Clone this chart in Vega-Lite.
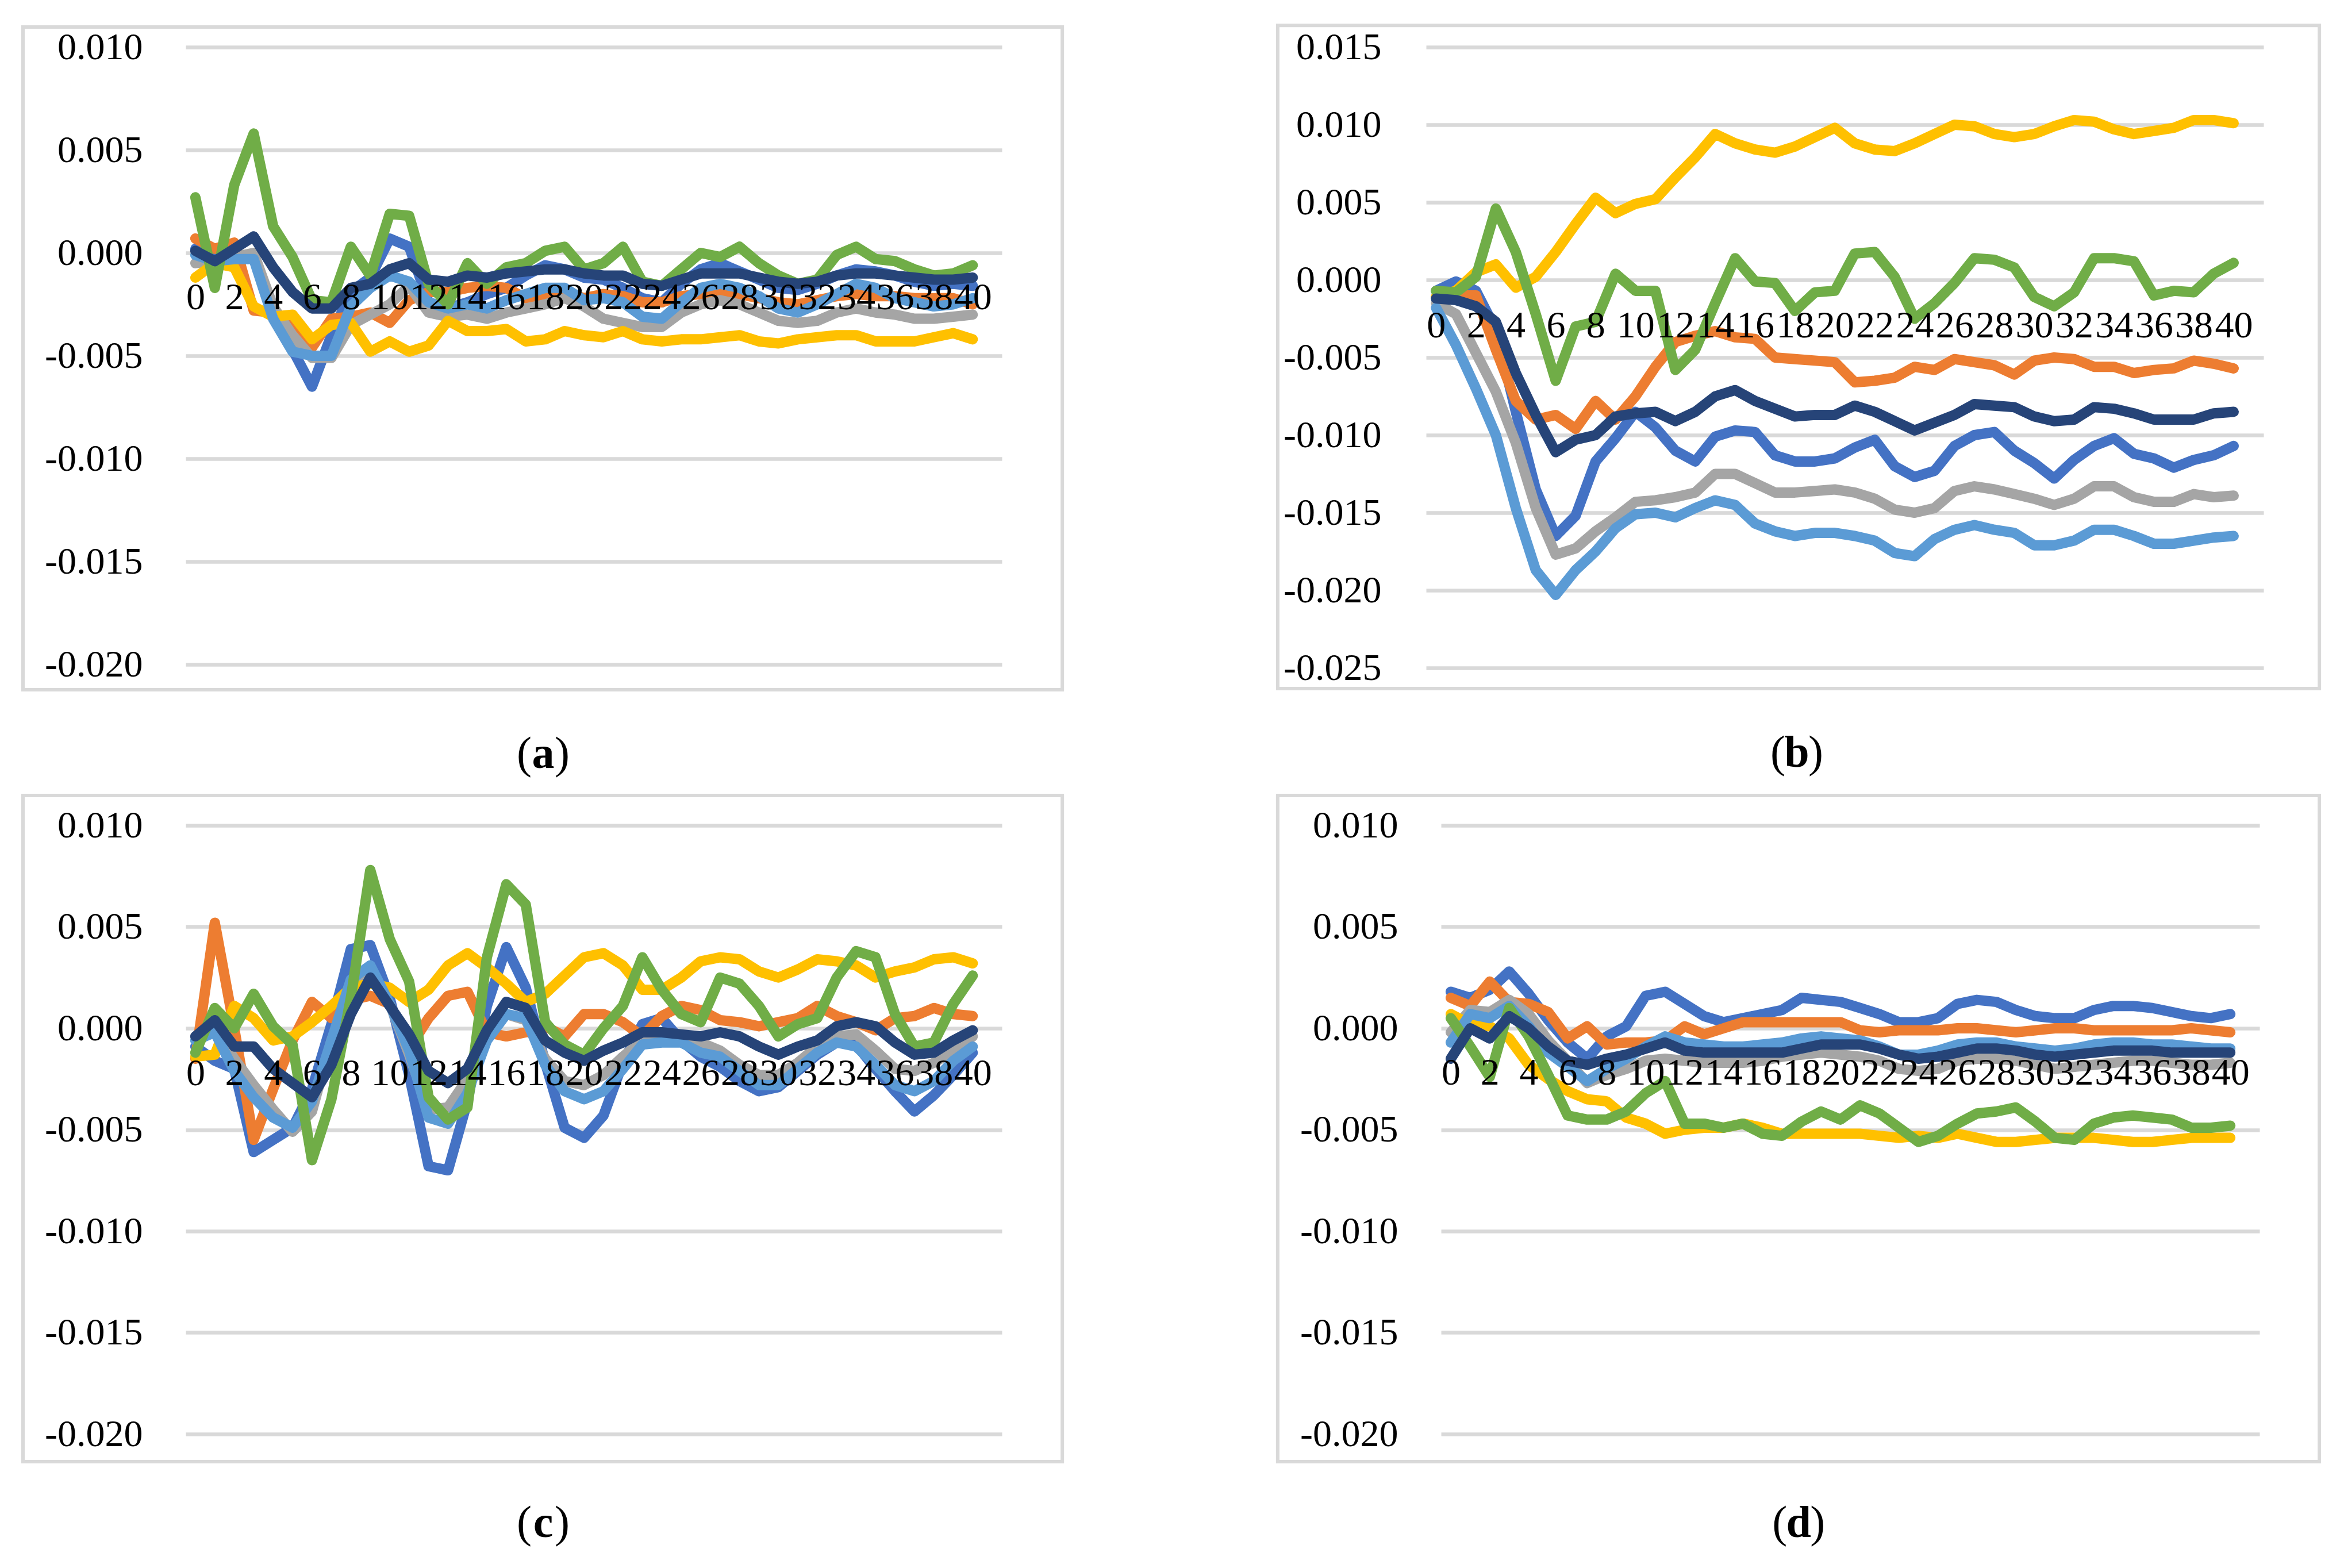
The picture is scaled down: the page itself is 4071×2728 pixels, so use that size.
{
"$schema": "https://vega.github.io/schema/vega-lite/v6.json",
"background": "white",
"padding": {"left": 37, "top": 41, "right": 0, "bottom": 0},
"spacing": 28,
"config": {"view": {"stroke": null}, "axis": {"labelFont": "Liberation Serif", "labelFontSize": 66, "labelColor": "#000000", "domain": false, "ticks": false}},
"datasets": {"d": [
{"p":"a","s":"s1","t":0,"v":0.0002},{"p":"a","s":"s1","t":1,"v":0.0001},{"p":"a","s":"s1","t":2,"v":-0.0002},{"p":"a","s":"s1","t":3,"v":-0.0002},{"p":"a","s":"s1","t":4,"v":-0.0030},{"p":"a","s":"s1","t":5,"v":-0.0047},{"p":"a","s":"s1","t":6,"v":-0.0065},{"p":"a","s":"s1","t":7,"v":-0.0040},{"p":"a","s":"s1","t":8,"v":-0.0019},{"p":"a","s":"s1","t":9,"v":-0.0012},{"p":"a","s":"s1","t":10,"v":0.0007},{"p":"a","s":"s1","t":11,"v":0.0003},{"p":"a","s":"s1","t":12,"v":-0.0024},{"p":"a","s":"s1","t":13,"v":-0.0027},{"p":"a","s":"s1","t":14,"v":-0.0024},{"p":"a","s":"s1","t":15,"v":-0.0020},{"p":"a","s":"s1","t":16,"v":-0.0017},{"p":"a","s":"s1","t":17,"v":-0.0011},{"p":"a","s":"s1","t":18,"v":-0.0006},{"p":"a","s":"s1","t":19,"v":-0.0008},{"p":"a","s":"s1","t":20,"v":-0.0012},{"p":"a","s":"s1","t":21,"v":-0.0013},{"p":"a","s":"s1","t":22,"v":-0.0017},{"p":"a","s":"s1","t":23,"v":-0.0022},{"p":"a","s":"s1","t":24,"v":-0.0024},{"p":"a","s":"s1","t":25,"v":-0.0015},{"p":"a","s":"s1","t":26,"v":-0.0008},{"p":"a","s":"s1","t":27,"v":-0.0005},{"p":"a","s":"s1","t":28,"v":-0.0009},{"p":"a","s":"s1","t":29,"v":-0.0013},{"p":"a","s":"s1","t":30,"v":-0.0017},{"p":"a","s":"s1","t":31,"v":-0.0018},{"p":"a","s":"s1","t":32,"v":-0.0015},{"p":"a","s":"s1","t":33,"v":-0.0011},{"p":"a","s":"s1","t":34,"v":-0.0008},{"p":"a","s":"s1","t":35,"v":-0.0009},{"p":"a","s":"s1","t":36,"v":-0.0011},{"p":"a","s":"s1","t":37,"v":-0.0014},{"p":"a","s":"s1","t":38,"v":-0.0016},{"p":"a","s":"s1","t":39,"v":-0.0015},{"p":"a","s":"s1","t":40,"v":-0.0016},
{"p":"a","s":"s2","t":0,"v":0.0007},{"p":"a","s":"s2","t":1,"v":0.0002},{"p":"a","s":"s2","t":2,"v":0.0005},{"p":"a","s":"s2","t":3,"v":-0.0028},{"p":"a","s":"s2","t":4,"v":-0.0029},{"p":"a","s":"s2","t":5,"v":-0.0036},{"p":"a","s":"s2","t":6,"v":-0.0046},{"p":"a","s":"s2","t":7,"v":-0.0032},{"p":"a","s":"s2","t":8,"v":-0.0031},{"p":"a","s":"s2","t":9,"v":-0.0029},{"p":"a","s":"s2","t":10,"v":-0.0034},{"p":"a","s":"s2","t":11,"v":-0.0023},{"p":"a","s":"s2","t":12,"v":-0.0019},{"p":"a","s":"s2","t":13,"v":-0.0019},{"p":"a","s":"s2","t":14,"v":-0.0017},{"p":"a","s":"s2","t":15,"v":-0.0016},{"p":"a","s":"s2","t":16,"v":-0.0017},{"p":"a","s":"s2","t":17,"v":-0.0022},{"p":"a","s":"s2","t":18,"v":-0.0020},{"p":"a","s":"s2","t":19,"v":-0.0019},{"p":"a","s":"s2","t":20,"v":-0.0022},{"p":"a","s":"s2","t":21,"v":-0.0020},{"p":"a","s":"s2","t":22,"v":-0.0021},{"p":"a","s":"s2","t":23,"v":-0.0024},{"p":"a","s":"s2","t":24,"v":-0.0024},{"p":"a","s":"s2","t":25,"v":-0.0021},{"p":"a","s":"s2","t":26,"v":-0.0020},{"p":"a","s":"s2","t":27,"v":-0.0019},{"p":"a","s":"s2","t":28,"v":-0.0020},{"p":"a","s":"s2","t":29,"v":-0.0022},{"p":"a","s":"s2","t":30,"v":-0.0024},{"p":"a","s":"s2","t":31,"v":-0.0025},{"p":"a","s":"s2","t":32,"v":-0.0023},{"p":"a","s":"s2","t":33,"v":-0.0021},{"p":"a","s":"s2","t":34,"v":-0.0020},{"p":"a","s":"s2","t":35,"v":-0.0021},{"p":"a","s":"s2","t":36,"v":-0.0021},{"p":"a","s":"s2","t":37,"v":-0.0022},{"p":"a","s":"s2","t":38,"v":-0.0022},{"p":"a","s":"s2","t":39,"v":-0.0022},{"p":"a","s":"s2","t":40,"v":-0.0025},
{"p":"a","s":"s3","t":0,"v":-0.0005},{"p":"a","s":"s3","t":1,"v":-0.0004},{"p":"a","s":"s3","t":2,"v":-0.0002},{"p":"a","s":"s3","t":3,"v":0.0000},{"p":"a","s":"s3","t":4,"v":-0.0026},{"p":"a","s":"s3","t":5,"v":-0.0040},{"p":"a","s":"s3","t":6,"v":-0.0051},{"p":"a","s":"s3","t":7,"v":-0.0051},{"p":"a","s":"s3","t":8,"v":-0.0035},{"p":"a","s":"s3","t":9,"v":-0.0030},{"p":"a","s":"s3","t":10,"v":-0.0025},{"p":"a","s":"s3","t":11,"v":-0.0016},{"p":"a","s":"s3","t":12,"v":-0.0029},{"p":"a","s":"s3","t":13,"v":-0.0031},{"p":"a","s":"s3","t":14,"v":-0.0030},{"p":"a","s":"s3","t":15,"v":-0.0032},{"p":"a","s":"s3","t":16,"v":-0.0029},{"p":"a","s":"s3","t":17,"v":-0.0027},{"p":"a","s":"s3","t":18,"v":-0.0025},{"p":"a","s":"s3","t":19,"v":-0.0022},{"p":"a","s":"s3","t":20,"v":-0.0026},{"p":"a","s":"s3","t":21,"v":-0.0032},{"p":"a","s":"s3","t":22,"v":-0.0034},{"p":"a","s":"s3","t":23,"v":-0.0036},{"p":"a","s":"s3","t":24,"v":-0.0036},{"p":"a","s":"s3","t":25,"v":-0.0029},{"p":"a","s":"s3","t":26,"v":-0.0025},{"p":"a","s":"s3","t":27,"v":-0.0023},{"p":"a","s":"s3","t":28,"v":-0.0025},{"p":"a","s":"s3","t":29,"v":-0.0029},{"p":"a","s":"s3","t":30,"v":-0.0033},{"p":"a","s":"s3","t":31,"v":-0.0034},{"p":"a","s":"s3","t":32,"v":-0.0033},{"p":"a","s":"s3","t":33,"v":-0.0029},{"p":"a","s":"s3","t":34,"v":-0.0027},{"p":"a","s":"s3","t":35,"v":-0.0029},{"p":"a","s":"s3","t":36,"v":-0.0030},{"p":"a","s":"s3","t":37,"v":-0.0032},{"p":"a","s":"s3","t":38,"v":-0.0032},{"p":"a","s":"s3","t":39,"v":-0.0031},{"p":"a","s":"s3","t":40,"v":-0.0030},
{"p":"a","s":"s4","t":0,"v":-0.0012},{"p":"a","s":"s4","t":1,"v":-0.0005},{"p":"a","s":"s4","t":2,"v":-0.0007},{"p":"a","s":"s4","t":3,"v":-0.0026},{"p":"a","s":"s4","t":4,"v":-0.0031},{"p":"a","s":"s4","t":5,"v":-0.0030},{"p":"a","s":"s4","t":6,"v":-0.0042},{"p":"a","s":"s4","t":7,"v":-0.0035},{"p":"a","s":"s4","t":8,"v":-0.0034},{"p":"a","s":"s4","t":9,"v":-0.0048},{"p":"a","s":"s4","t":10,"v":-0.0043},{"p":"a","s":"s4","t":11,"v":-0.0048},{"p":"a","s":"s4","t":12,"v":-0.0045},{"p":"a","s":"s4","t":13,"v":-0.0033},{"p":"a","s":"s4","t":14,"v":-0.0038},{"p":"a","s":"s4","t":15,"v":-0.0038},{"p":"a","s":"s4","t":16,"v":-0.0037},{"p":"a","s":"s4","t":17,"v":-0.0043},{"p":"a","s":"s4","t":18,"v":-0.0042},{"p":"a","s":"s4","t":19,"v":-0.0038},{"p":"a","s":"s4","t":20,"v":-0.0040},{"p":"a","s":"s4","t":21,"v":-0.0041},{"p":"a","s":"s4","t":22,"v":-0.0038},{"p":"a","s":"s4","t":23,"v":-0.0042},{"p":"a","s":"s4","t":24,"v":-0.0043},{"p":"a","s":"s4","t":25,"v":-0.0042},{"p":"a","s":"s4","t":26,"v":-0.0042},{"p":"a","s":"s4","t":27,"v":-0.0041},{"p":"a","s":"s4","t":28,"v":-0.0040},{"p":"a","s":"s4","t":29,"v":-0.0043},{"p":"a","s":"s4","t":30,"v":-0.0044},{"p":"a","s":"s4","t":31,"v":-0.0042},{"p":"a","s":"s4","t":32,"v":-0.0041},{"p":"a","s":"s4","t":33,"v":-0.0040},{"p":"a","s":"s4","t":34,"v":-0.0040},{"p":"a","s":"s4","t":35,"v":-0.0043},{"p":"a","s":"s4","t":36,"v":-0.0043},{"p":"a","s":"s4","t":37,"v":-0.0043},{"p":"a","s":"s4","t":38,"v":-0.0041},{"p":"a","s":"s4","t":39,"v":-0.0039},{"p":"a","s":"s4","t":40,"v":-0.0042},
{"p":"a","s":"s5","t":0,"v":-0.0001},{"p":"a","s":"s5","t":1,"v":-0.0004},{"p":"a","s":"s5","t":2,"v":-0.0003},{"p":"a","s":"s5","t":3,"v":-0.0003},{"p":"a","s":"s5","t":4,"v":-0.0032},{"p":"a","s":"s5","t":5,"v":-0.0048},{"p":"a","s":"s5","t":6,"v":-0.0050},{"p":"a","s":"s5","t":7,"v":-0.0050},{"p":"a","s":"s5","t":8,"v":-0.0026},{"p":"a","s":"s5","t":9,"v":-0.0017},{"p":"a","s":"s5","t":10,"v":-0.0011},{"p":"a","s":"s5","t":11,"v":-0.0014},{"p":"a","s":"s5","t":12,"v":-0.0024},{"p":"a","s":"s5","t":13,"v":-0.0027},{"p":"a","s":"s5","t":14,"v":-0.0025},{"p":"a","s":"s5","t":15,"v":-0.0027},{"p":"a","s":"s5","t":16,"v":-0.0023},{"p":"a","s":"s5","t":17,"v":-0.0020},{"p":"a","s":"s5","t":18,"v":-0.0017},{"p":"a","s":"s5","t":19,"v":-0.0017},{"p":"a","s":"s5","t":20,"v":-0.0023},{"p":"a","s":"s5","t":21,"v":-0.0022},{"p":"a","s":"s5","t":22,"v":-0.0024},{"p":"a","s":"s5","t":23,"v":-0.0031},{"p":"a","s":"s5","t":24,"v":-0.0032},{"p":"a","s":"s5","t":25,"v":-0.0024},{"p":"a","s":"s5","t":26,"v":-0.0017},{"p":"a","s":"s5","t":27,"v":-0.0015},{"p":"a","s":"s5","t":28,"v":-0.0017},{"p":"a","s":"s5","t":29,"v":-0.0021},{"p":"a","s":"s5","t":30,"v":-0.0027},{"p":"a","s":"s5","t":31,"v":-0.0029},{"p":"a","s":"s5","t":32,"v":-0.0025},{"p":"a","s":"s5","t":33,"v":-0.0020},{"p":"a","s":"s5","t":34,"v":-0.0015},{"p":"a","s":"s5","t":35,"v":-0.0017},{"p":"a","s":"s5","t":36,"v":-0.0022},{"p":"a","s":"s5","t":37,"v":-0.0024},{"p":"a","s":"s5","t":38,"v":-0.0026},{"p":"a","s":"s5","t":39,"v":-0.0025},{"p":"a","s":"s5","t":40,"v":-0.0022},
{"p":"a","s":"s6","t":0,"v":0.0027},{"p":"a","s":"s6","t":1,"v":-0.0017},{"p":"a","s":"s6","t":2,"v":0.0033},{"p":"a","s":"s6","t":3,"v":0.0058},{"p":"a","s":"s6","t":4,"v":0.0013},{"p":"a","s":"s6","t":5,"v":-0.0002},{"p":"a","s":"s6","t":6,"v":-0.0023},{"p":"a","s":"s6","t":7,"v":-0.0024},{"p":"a","s":"s6","t":8,"v":0.0003},{"p":"a","s":"s6","t":9,"v":-0.0011},{"p":"a","s":"s6","t":10,"v":0.0019},{"p":"a","s":"s6","t":11,"v":0.0018},{"p":"a","s":"s6","t":12,"v":-0.0015},{"p":"a","s":"s6","t":13,"v":-0.0025},{"p":"a","s":"s6","t":14,"v":-0.0005},{"p":"a","s":"s6","t":15,"v":-0.0015},{"p":"a","s":"s6","t":16,"v":-0.0007},{"p":"a","s":"s6","t":17,"v":-0.0005},{"p":"a","s":"s6","t":18,"v":0.0001},{"p":"a","s":"s6","t":19,"v":0.0003},{"p":"a","s":"s6","t":20,"v":-0.0008},{"p":"a","s":"s6","t":21,"v":-0.0005},{"p":"a","s":"s6","t":22,"v":0.0003},{"p":"a","s":"s6","t":23,"v":-0.0014},{"p":"a","s":"s6","t":24,"v":-0.0016},{"p":"a","s":"s6","t":25,"v":-0.0008},{"p":"a","s":"s6","t":26,"v":0.0000},{"p":"a","s":"s6","t":27,"v":-0.0002},{"p":"a","s":"s6","t":28,"v":0.0003},{"p":"a","s":"s6","t":29,"v":-0.0005},{"p":"a","s":"s6","t":30,"v":-0.0011},{"p":"a","s":"s6","t":31,"v":-0.0015},{"p":"a","s":"s6","t":32,"v":-0.0013},{"p":"a","s":"s6","t":33,"v":-0.0001},{"p":"a","s":"s6","t":34,"v":0.0003},{"p":"a","s":"s6","t":35,"v":-0.0003},{"p":"a","s":"s6","t":36,"v":-0.0004},{"p":"a","s":"s6","t":37,"v":-0.0008},{"p":"a","s":"s6","t":38,"v":-0.0011},{"p":"a","s":"s6","t":39,"v":-0.0010},{"p":"a","s":"s6","t":40,"v":-0.0006},
{"p":"a","s":"s7","t":0,"v":0.0001},{"p":"a","s":"s7","t":1,"v":-0.0004},{"p":"a","s":"s7","t":2,"v":0.0002},{"p":"a","s":"s7","t":3,"v":0.0008},{"p":"a","s":"s7","t":4,"v":-0.0007},{"p":"a","s":"s7","t":5,"v":-0.0019},{"p":"a","s":"s7","t":6,"v":-0.0027},{"p":"a","s":"s7","t":7,"v":-0.0027},{"p":"a","s":"s7","t":8,"v":-0.0017},{"p":"a","s":"s7","t":9,"v":-0.0015},{"p":"a","s":"s7","t":10,"v":-0.0008},{"p":"a","s":"s7","t":11,"v":-0.0005},{"p":"a","s":"s7","t":12,"v":-0.0013},{"p":"a","s":"s7","t":13,"v":-0.0014},{"p":"a","s":"s7","t":14,"v":-0.0011},{"p":"a","s":"s7","t":15,"v":-0.0012},{"p":"a","s":"s7","t":16,"v":-0.0010},{"p":"a","s":"s7","t":17,"v":-0.0009},{"p":"a","s":"s7","t":18,"v":-0.0008},{"p":"a","s":"s7","t":19,"v":-0.0008},{"p":"a","s":"s7","t":20,"v":-0.0010},{"p":"a","s":"s7","t":21,"v":-0.0011},{"p":"a","s":"s7","t":22,"v":-0.0011},{"p":"a","s":"s7","t":23,"v":-0.0015},{"p":"a","s":"s7","t":24,"v":-0.0016},{"p":"a","s":"s7","t":25,"v":-0.0013},{"p":"a","s":"s7","t":26,"v":-0.0010},{"p":"a","s":"s7","t":27,"v":-0.0010},{"p":"a","s":"s7","t":28,"v":-0.0010},{"p":"a","s":"s7","t":29,"v":-0.0012},{"p":"a","s":"s7","t":30,"v":-0.0014},{"p":"a","s":"s7","t":31,"v":-0.0015},{"p":"a","s":"s7","t":32,"v":-0.0014},{"p":"a","s":"s7","t":33,"v":-0.0011},{"p":"a","s":"s7","t":34,"v":-0.0010},{"p":"a","s":"s7","t":35,"v":-0.0010},{"p":"a","s":"s7","t":36,"v":-0.0011},{"p":"a","s":"s7","t":37,"v":-0.0012},{"p":"a","s":"s7","t":38,"v":-0.0013},{"p":"a","s":"s7","t":39,"v":-0.0013},{"p":"a","s":"s7","t":40,"v":-0.0012},
{"p":"b","s":"s1","t":0,"v":-0.0007},{"p":"b","s":"s1","t":1,"v":-0.0001},{"p":"b","s":"s1","t":2,"v":-0.0007},{"p":"b","s":"s1","t":3,"v":-0.0032},{"p":"b","s":"s1","t":4,"v":-0.0085},{"p":"b","s":"s1","t":5,"v":-0.0135},{"p":"b","s":"s1","t":6,"v":-0.0165},{"p":"b","s":"s1","t":7,"v":-0.0152},{"p":"b","s":"s1","t":8,"v":-0.0117},{"p":"b","s":"s1","t":9,"v":-0.0102},{"p":"b","s":"s1","t":10,"v":-0.0085},{"p":"b","s":"s1","t":11,"v":-0.0095},{"p":"b","s":"s1","t":12,"v":-0.0110},{"p":"b","s":"s1","t":13,"v":-0.0117},{"p":"b","s":"s1","t":14,"v":-0.0101},{"p":"b","s":"s1","t":15,"v":-0.0097},{"p":"b","s":"s1","t":16,"v":-0.0098},{"p":"b","s":"s1","t":17,"v":-0.0113},{"p":"b","s":"s1","t":18,"v":-0.0117},{"p":"b","s":"s1","t":19,"v":-0.0117},{"p":"b","s":"s1","t":20,"v":-0.0115},{"p":"b","s":"s1","t":21,"v":-0.0108},{"p":"b","s":"s1","t":22,"v":-0.0103},{"p":"b","s":"s1","t":23,"v":-0.0120},{"p":"b","s":"s1","t":24,"v":-0.0127},{"p":"b","s":"s1","t":25,"v":-0.0123},{"p":"b","s":"s1","t":26,"v":-0.0107},{"p":"b","s":"s1","t":27,"v":-0.0100},{"p":"b","s":"s1","t":28,"v":-0.0098},{"p":"b","s":"s1","t":29,"v":-0.0110},{"p":"b","s":"s1","t":30,"v":-0.0118},{"p":"b","s":"s1","t":31,"v":-0.0128},{"p":"b","s":"s1","t":32,"v":-0.0116},{"p":"b","s":"s1","t":33,"v":-0.0107},{"p":"b","s":"s1","t":34,"v":-0.0102},{"p":"b","s":"s1","t":35,"v":-0.0112},{"p":"b","s":"s1","t":36,"v":-0.0115},{"p":"b","s":"s1","t":37,"v":-0.0121},{"p":"b","s":"s1","t":38,"v":-0.0116},{"p":"b","s":"s1","t":39,"v":-0.0113},{"p":"b","s":"s1","t":40,"v":-0.0107},
{"p":"b","s":"s2","t":0,"v":-0.0011},{"p":"b","s":"s2","t":1,"v":-0.0010},{"p":"b","s":"s2","t":2,"v":-0.0010},{"p":"b","s":"s2","t":3,"v":-0.0045},{"p":"b","s":"s2","t":4,"v":-0.0078},{"p":"b","s":"s2","t":5,"v":-0.0090},{"p":"b","s":"s2","t":6,"v":-0.0087},{"p":"b","s":"s2","t":7,"v":-0.0096},{"p":"b","s":"s2","t":8,"v":-0.0078},{"p":"b","s":"s2","t":9,"v":-0.0090},{"p":"b","s":"s2","t":10,"v":-0.0075},{"p":"b","s":"s2","t":11,"v":-0.0056},{"p":"b","s":"s2","t":12,"v":-0.0040},{"p":"b","s":"s2","t":13,"v":-0.0036},{"p":"b","s":"s2","t":14,"v":-0.0033},{"p":"b","s":"s2","t":15,"v":-0.0037},{"p":"b","s":"s2","t":16,"v":-0.0038},{"p":"b","s":"s2","t":17,"v":-0.0050},{"p":"b","s":"s2","t":18,"v":-0.0051},{"p":"b","s":"s2","t":19,"v":-0.0052},{"p":"b","s":"s2","t":20,"v":-0.0053},{"p":"b","s":"s2","t":21,"v":-0.0066},{"p":"b","s":"s2","t":22,"v":-0.0065},{"p":"b","s":"s2","t":23,"v":-0.0063},{"p":"b","s":"s2","t":24,"v":-0.0056},{"p":"b","s":"s2","t":25,"v":-0.0058},{"p":"b","s":"s2","t":26,"v":-0.0051},{"p":"b","s":"s2","t":27,"v":-0.0053},{"p":"b","s":"s2","t":28,"v":-0.0055},{"p":"b","s":"s2","t":29,"v":-0.0061},{"p":"b","s":"s2","t":30,"v":-0.0052},{"p":"b","s":"s2","t":31,"v":-0.0050},{"p":"b","s":"s2","t":32,"v":-0.0051},{"p":"b","s":"s2","t":33,"v":-0.0056},{"p":"b","s":"s2","t":34,"v":-0.0056},{"p":"b","s":"s2","t":35,"v":-0.0060},{"p":"b","s":"s2","t":36,"v":-0.0058},{"p":"b","s":"s2","t":37,"v":-0.0057},{"p":"b","s":"s2","t":38,"v":-0.0052},{"p":"b","s":"s2","t":39,"v":-0.0054},{"p":"b","s":"s2","t":40,"v":-0.0057},
{"p":"b","s":"s3","t":0,"v":-0.0015},{"p":"b","s":"s3","t":1,"v":-0.0022},{"p":"b","s":"s3","t":2,"v":-0.0047},{"p":"b","s":"s3","t":3,"v":-0.0072},{"p":"b","s":"s3","t":4,"v":-0.0105},{"p":"b","s":"s3","t":5,"v":-0.0147},{"p":"b","s":"s3","t":6,"v":-0.0177},{"p":"b","s":"s3","t":7,"v":-0.0173},{"p":"b","s":"s3","t":8,"v":-0.0162},{"p":"b","s":"s3","t":9,"v":-0.0153},{"p":"b","s":"s3","t":10,"v":-0.0143},{"p":"b","s":"s3","t":11,"v":-0.0142},{"p":"b","s":"s3","t":12,"v":-0.0140},{"p":"b","s":"s3","t":13,"v":-0.0137},{"p":"b","s":"s3","t":14,"v":-0.0125},{"p":"b","s":"s3","t":15,"v":-0.0125},{"p":"b","s":"s3","t":16,"v":-0.0131},{"p":"b","s":"s3","t":17,"v":-0.0137},{"p":"b","s":"s3","t":18,"v":-0.0137},{"p":"b","s":"s3","t":19,"v":-0.0136},{"p":"b","s":"s3","t":20,"v":-0.0135},{"p":"b","s":"s3","t":21,"v":-0.0137},{"p":"b","s":"s3","t":22,"v":-0.0141},{"p":"b","s":"s3","t":23,"v":-0.0148},{"p":"b","s":"s3","t":24,"v":-0.0150},{"p":"b","s":"s3","t":25,"v":-0.0147},{"p":"b","s":"s3","t":26,"v":-0.0136},{"p":"b","s":"s3","t":27,"v":-0.0133},{"p":"b","s":"s3","t":28,"v":-0.0135},{"p":"b","s":"s3","t":29,"v":-0.0138},{"p":"b","s":"s3","t":30,"v":-0.0141},{"p":"b","s":"s3","t":31,"v":-0.0145},{"p":"b","s":"s3","t":32,"v":-0.0141},{"p":"b","s":"s3","t":33,"v":-0.0133},{"p":"b","s":"s3","t":34,"v":-0.0133},{"p":"b","s":"s3","t":35,"v":-0.0140},{"p":"b","s":"s3","t":36,"v":-0.0143},{"p":"b","s":"s3","t":37,"v":-0.0143},{"p":"b","s":"s3","t":38,"v":-0.0138},{"p":"b","s":"s3","t":39,"v":-0.0140},{"p":"b","s":"s3","t":40,"v":-0.0139},
{"p":"b","s":"s4","t":0,"v":-0.0011},{"p":"b","s":"s4","t":1,"v":-0.0007},{"p":"b","s":"s4","t":2,"v":0.0005},{"p":"b","s":"s4","t":3,"v":0.0010},{"p":"b","s":"s4","t":4,"v":-0.0005},{"p":"b","s":"s4","t":5,"v":0.0002},{"p":"b","s":"s4","t":6,"v":0.0018},{"p":"b","s":"s4","t":7,"v":0.0036},{"p":"b","s":"s4","t":8,"v":0.0053},{"p":"b","s":"s4","t":9,"v":0.0043},{"p":"b","s":"s4","t":10,"v":0.0049},{"p":"b","s":"s4","t":11,"v":0.0052},{"p":"b","s":"s4","t":12,"v":0.0066},{"p":"b","s":"s4","t":13,"v":0.0079},{"p":"b","s":"s4","t":14,"v":0.0094},{"p":"b","s":"s4","t":15,"v":0.0088},{"p":"b","s":"s4","t":16,"v":0.0084},{"p":"b","s":"s4","t":17,"v":0.0082},{"p":"b","s":"s4","t":18,"v":0.0086},{"p":"b","s":"s4","t":19,"v":0.0092},{"p":"b","s":"s4","t":20,"v":0.0098},{"p":"b","s":"s4","t":21,"v":0.0088},{"p":"b","s":"s4","t":22,"v":0.0084},{"p":"b","s":"s4","t":23,"v":0.0083},{"p":"b","s":"s4","t":24,"v":0.0088},{"p":"b","s":"s4","t":25,"v":0.0094},{"p":"b","s":"s4","t":26,"v":0.0100},{"p":"b","s":"s4","t":27,"v":0.0099},{"p":"b","s":"s4","t":28,"v":0.0094},{"p":"b","s":"s4","t":29,"v":0.0092},{"p":"b","s":"s4","t":30,"v":0.0094},{"p":"b","s":"s4","t":31,"v":0.0099},{"p":"b","s":"s4","t":32,"v":0.0103},{"p":"b","s":"s4","t":33,"v":0.0102},{"p":"b","s":"s4","t":34,"v":0.0097},{"p":"b","s":"s4","t":35,"v":0.0094},{"p":"b","s":"s4","t":36,"v":0.0096},{"p":"b","s":"s4","t":37,"v":0.0098},{"p":"b","s":"s4","t":38,"v":0.0103},{"p":"b","s":"s4","t":39,"v":0.0103},{"p":"b","s":"s4","t":40,"v":0.0101},
{"p":"b","s":"s5","t":0,"v":-0.0018},{"p":"b","s":"s5","t":1,"v":-0.0042},{"p":"b","s":"s5","t":2,"v":-0.0070},{"p":"b","s":"s5","t":3,"v":-0.0100},{"p":"b","s":"s5","t":4,"v":-0.0147},{"p":"b","s":"s5","t":5,"v":-0.0187},{"p":"b","s":"s5","t":6,"v":-0.0203},{"p":"b","s":"s5","t":7,"v":-0.0187},{"p":"b","s":"s5","t":8,"v":-0.0175},{"p":"b","s":"s5","t":9,"v":-0.0160},{"p":"b","s":"s5","t":10,"v":-0.0151},{"p":"b","s":"s5","t":11,"v":-0.0150},{"p":"b","s":"s5","t":12,"v":-0.0153},{"p":"b","s":"s5","t":13,"v":-0.0147},{"p":"b","s":"s5","t":14,"v":-0.0142},{"p":"b","s":"s5","t":15,"v":-0.0145},{"p":"b","s":"s5","t":16,"v":-0.0157},{"p":"b","s":"s5","t":17,"v":-0.0162},{"p":"b","s":"s5","t":18,"v":-0.0165},{"p":"b","s":"s5","t":19,"v":-0.0163},{"p":"b","s":"s5","t":20,"v":-0.0163},{"p":"b","s":"s5","t":21,"v":-0.0165},{"p":"b","s":"s5","t":22,"v":-0.0168},{"p":"b","s":"s5","t":23,"v":-0.0176},{"p":"b","s":"s5","t":24,"v":-0.0178},{"p":"b","s":"s5","t":25,"v":-0.0167},{"p":"b","s":"s5","t":26,"v":-0.0161},{"p":"b","s":"s5","t":27,"v":-0.0158},{"p":"b","s":"s5","t":28,"v":-0.0161},{"p":"b","s":"s5","t":29,"v":-0.0163},{"p":"b","s":"s5","t":30,"v":-0.0171},{"p":"b","s":"s5","t":31,"v":-0.0171},{"p":"b","s":"s5","t":32,"v":-0.0168},{"p":"b","s":"s5","t":33,"v":-0.0161},{"p":"b","s":"s5","t":34,"v":-0.0161},{"p":"b","s":"s5","t":35,"v":-0.0165},{"p":"b","s":"s5","t":36,"v":-0.0170},{"p":"b","s":"s5","t":37,"v":-0.0170},{"p":"b","s":"s5","t":38,"v":-0.0168},{"p":"b","s":"s5","t":39,"v":-0.0166},{"p":"b","s":"s5","t":40,"v":-0.0165},
{"p":"b","s":"s6","t":0,"v":-0.0007},{"p":"b","s":"s6","t":1,"v":-0.0008},{"p":"b","s":"s6","t":2,"v":0.0002},{"p":"b","s":"s6","t":3,"v":0.0046},{"p":"b","s":"s6","t":4,"v":0.0018},{"p":"b","s":"s6","t":5,"v":-0.0022},{"p":"b","s":"s6","t":6,"v":-0.0065},{"p":"b","s":"s6","t":7,"v":-0.0030},{"p":"b","s":"s6","t":8,"v":-0.0027},{"p":"b","s":"s6","t":9,"v":0.0004},{"p":"b","s":"s6","t":10,"v":-0.0007},{"p":"b","s":"s6","t":11,"v":-0.0007},{"p":"b","s":"s6","t":12,"v":-0.0058},{"p":"b","s":"s6","t":13,"v":-0.0045},{"p":"b","s":"s6","t":14,"v":-0.0015},{"p":"b","s":"s6","t":15,"v":0.0014},{"p":"b","s":"s6","t":16,"v":-0.0001},{"p":"b","s":"s6","t":17,"v":-0.0002},{"p":"b","s":"s6","t":18,"v":-0.0020},{"p":"b","s":"s6","t":19,"v":-0.0008},{"p":"b","s":"s6","t":20,"v":-0.0007},{"p":"b","s":"s6","t":21,"v":0.0017},{"p":"b","s":"s6","t":22,"v":0.0018},{"p":"b","s":"s6","t":23,"v":0.0002},{"p":"b","s":"s6","t":24,"v":-0.0025},{"p":"b","s":"s6","t":25,"v":-0.0015},{"p":"b","s":"s6","t":26,"v":-0.0002},{"p":"b","s":"s6","t":27,"v":0.0014},{"p":"b","s":"s6","t":28,"v":0.0013},{"p":"b","s":"s6","t":29,"v":0.0008},{"p":"b","s":"s6","t":30,"v":-0.0011},{"p":"b","s":"s6","t":31,"v":-0.0017},{"p":"b","s":"s6","t":32,"v":-0.0008},{"p":"b","s":"s6","t":33,"v":0.0014},{"p":"b","s":"s6","t":34,"v":0.0014},{"p":"b","s":"s6","t":35,"v":0.0012},{"p":"b","s":"s6","t":36,"v":-0.0010},{"p":"b","s":"s6","t":37,"v":-0.0007},{"p":"b","s":"s6","t":38,"v":-0.0008},{"p":"b","s":"s6","t":39,"v":0.0004},{"p":"b","s":"s6","t":40,"v":0.0011},
{"p":"b","s":"s7","t":0,"v":-0.0012},{"p":"b","s":"s7","t":1,"v":-0.0013},{"p":"b","s":"s7","t":2,"v":-0.0017},{"p":"b","s":"s7","t":3,"v":-0.0027},{"p":"b","s":"s7","t":4,"v":-0.0060},{"p":"b","s":"s7","t":5,"v":-0.0087},{"p":"b","s":"s7","t":6,"v":-0.0111},{"p":"b","s":"s7","t":7,"v":-0.0103},{"p":"b","s":"s7","t":8,"v":-0.0100},{"p":"b","s":"s7","t":9,"v":-0.0088},{"p":"b","s":"s7","t":10,"v":-0.0086},{"p":"b","s":"s7","t":11,"v":-0.0085},{"p":"b","s":"s7","t":12,"v":-0.0091},{"p":"b","s":"s7","t":13,"v":-0.0085},{"p":"b","s":"s7","t":14,"v":-0.0075},{"p":"b","s":"s7","t":15,"v":-0.0071},{"p":"b","s":"s7","t":16,"v":-0.0078},{"p":"b","s":"s7","t":17,"v":-0.0083},{"p":"b","s":"s7","t":18,"v":-0.0088},{"p":"b","s":"s7","t":19,"v":-0.0087},{"p":"b","s":"s7","t":20,"v":-0.0087},{"p":"b","s":"s7","t":21,"v":-0.0081},{"p":"b","s":"s7","t":22,"v":-0.0085},{"p":"b","s":"s7","t":23,"v":-0.0091},{"p":"b","s":"s7","t":24,"v":-0.0097},{"p":"b","s":"s7","t":25,"v":-0.0092},{"p":"b","s":"s7","t":26,"v":-0.0087},{"p":"b","s":"s7","t":27,"v":-0.0080},{"p":"b","s":"s7","t":28,"v":-0.0081},{"p":"b","s":"s7","t":29,"v":-0.0082},{"p":"b","s":"s7","t":30,"v":-0.0088},{"p":"b","s":"s7","t":31,"v":-0.0091},{"p":"b","s":"s7","t":32,"v":-0.0090},{"p":"b","s":"s7","t":33,"v":-0.0082},{"p":"b","s":"s7","t":34,"v":-0.0083},{"p":"b","s":"s7","t":35,"v":-0.0086},{"p":"b","s":"s7","t":36,"v":-0.0090},{"p":"b","s":"s7","t":37,"v":-0.0090},{"p":"b","s":"s7","t":38,"v":-0.0090},{"p":"b","s":"s7","t":39,"v":-0.0086},{"p":"b","s":"s7","t":40,"v":-0.0085},
{"p":"c","s":"s1","t":0,"v":-0.0009},{"p":"c","s":"s1","t":1,"v":-0.0016},{"p":"c","s":"s1","t":2,"v":-0.0020},{"p":"c","s":"s1","t":3,"v":-0.0061},{"p":"c","s":"s1","t":4,"v":-0.0055},{"p":"c","s":"s1","t":5,"v":-0.0049},{"p":"c","s":"s1","t":6,"v":-0.0030},{"p":"c","s":"s1","t":7,"v":0.0002},{"p":"c","s":"s1","t":8,"v":0.0039},{"p":"c","s":"s1","t":9,"v":0.0041},{"p":"c","s":"s1","t":10,"v":0.0015},{"p":"c","s":"s1","t":11,"v":-0.0023},{"p":"c","s":"s1","t":12,"v":-0.0068},{"p":"c","s":"s1","t":13,"v":-0.0070},{"p":"c","s":"s1","t":14,"v":-0.0036},{"p":"c","s":"s1","t":15,"v":0.0011},{"p":"c","s":"s1","t":16,"v":0.0040},{"p":"c","s":"s1","t":17,"v":0.0020},{"p":"c","s":"s1","t":18,"v":-0.0017},{"p":"c","s":"s1","t":19,"v":-0.0049},{"p":"c","s":"s1","t":20,"v":-0.0054},{"p":"c","s":"s1","t":21,"v":-0.0043},{"p":"c","s":"s1","t":22,"v":-0.0017},{"p":"c","s":"s1","t":23,"v":0.0002},{"p":"c","s":"s1","t":24,"v":0.0005},{"p":"c","s":"s1","t":25,"v":-0.0006},{"p":"c","s":"s1","t":26,"v":-0.0014},{"p":"c","s":"s1","t":27,"v":-0.0019},{"p":"c","s":"s1","t":28,"v":-0.0026},{"p":"c","s":"s1","t":29,"v":-0.0031},{"p":"c","s":"s1","t":30,"v":-0.0029},{"p":"c","s":"s1","t":31,"v":-0.0021},{"p":"c","s":"s1","t":32,"v":-0.0013},{"p":"c","s":"s1","t":33,"v":-0.0007},{"p":"c","s":"s1","t":34,"v":-0.0008},{"p":"c","s":"s1","t":35,"v":-0.0020},{"p":"c","s":"s1","t":36,"v":-0.0031},{"p":"c","s":"s1","t":37,"v":-0.0041},{"p":"c","s":"s1","t":38,"v":-0.0033},{"p":"c","s":"s1","t":39,"v":-0.0023},{"p":"c","s":"s1","t":40,"v":-0.0012},
{"p":"c","s":"s2","t":0,"v":-0.0015},{"p":"c","s":"s2","t":1,"v":0.0052},{"p":"c","s":"s2","t":2,"v":0.0000},{"p":"c","s":"s2","t":3,"v":-0.0055},{"p":"c","s":"s2","t":4,"v":-0.0030},{"p":"c","s":"s2","t":5,"v":-0.0006},{"p":"c","s":"s2","t":6,"v":0.0013},{"p":"c","s":"s2","t":7,"v":0.0005},{"p":"c","s":"s2","t":8,"v":0.0014},{"p":"c","s":"s2","t":9,"v":0.0016},{"p":"c","s":"s2","t":10,"v":0.0012},{"p":"c","s":"s2","t":11,"v":-0.0010},{"p":"c","s":"s2","t":12,"v":0.0005},{"p":"c","s":"s2","t":13,"v":0.0016},{"p":"c","s":"s2","t":14,"v":0.0018},{"p":"c","s":"s2","t":15,"v":-0.0002},{"p":"c","s":"s2","t":16,"v":-0.0004},{"p":"c","s":"s2","t":17,"v":-0.0002},{"p":"c","s":"s2","t":18,"v":0.0001},{"p":"c","s":"s2","t":19,"v":-0.0004},{"p":"c","s":"s2","t":20,"v":0.0007},{"p":"c","s":"s2","t":21,"v":0.0007},{"p":"c","s":"s2","t":22,"v":0.0003},{"p":"c","s":"s2","t":23,"v":-0.0004},{"p":"c","s":"s2","t":24,"v":0.0006},{"p":"c","s":"s2","t":25,"v":0.0011},{"p":"c","s":"s2","t":26,"v":0.0009},{"p":"c","s":"s2","t":27,"v":0.0004},{"p":"c","s":"s2","t":28,"v":0.0003},{"p":"c","s":"s2","t":29,"v":0.0001},{"p":"c","s":"s2","t":30,"v":0.0003},{"p":"c","s":"s2","t":31,"v":0.0005},{"p":"c","s":"s2","t":32,"v":0.0011},{"p":"c","s":"s2","t":33,"v":0.0006},{"p":"c","s":"s2","t":34,"v":0.0003},{"p":"c","s":"s2","t":35,"v":-0.0001},{"p":"c","s":"s2","t":36,"v":0.0005},{"p":"c","s":"s2","t":37,"v":0.0006},{"p":"c","s":"s2","t":38,"v":0.0010},{"p":"c","s":"s2","t":39,"v":0.0007},{"p":"c","s":"s2","t":40,"v":0.0006},
{"p":"c","s":"s3","t":0,"v":-0.0004},{"p":"c","s":"s3","t":1,"v":0.0000},{"p":"c","s":"s3","t":2,"v":-0.0015},{"p":"c","s":"s3","t":3,"v":-0.0028},{"p":"c","s":"s3","t":4,"v":-0.0040},{"p":"c","s":"s3","t":5,"v":-0.0051},{"p":"c","s":"s3","t":6,"v":-0.0041},{"p":"c","s":"s3","t":7,"v":-0.0006},{"p":"c","s":"s3","t":8,"v":0.0020},{"p":"c","s":"s3","t":9,"v":0.0028},{"p":"c","s":"s3","t":10,"v":0.0012},{"p":"c","s":"s3","t":11,"v":-0.0013},{"p":"c","s":"s3","t":12,"v":-0.0040},{"p":"c","s":"s3","t":13,"v":-0.0039},{"p":"c","s":"s3","t":14,"v":-0.0025},{"p":"c","s":"s3","t":15,"v":-0.0004},{"p":"c","s":"s3","t":16,"v":0.0007},{"p":"c","s":"s3","t":17,"v":0.0004},{"p":"c","s":"s3","t":18,"v":-0.0015},{"p":"c","s":"s3","t":19,"v":-0.0026},{"p":"c","s":"s3","t":20,"v":-0.0028},{"p":"c","s":"s3","t":21,"v":-0.0023},{"p":"c","s":"s3","t":22,"v":-0.0014},{"p":"c","s":"s3","t":23,"v":-0.0006},{"p":"c","s":"s3","t":24,"v":-0.0004},{"p":"c","s":"s3","t":25,"v":-0.0006},{"p":"c","s":"s3","t":26,"v":-0.0007},{"p":"c","s":"s3","t":27,"v":-0.0011},{"p":"c","s":"s3","t":28,"v":-0.0018},{"p":"c","s":"s3","t":29,"v":-0.0023},{"p":"c","s":"s3","t":30,"v":-0.0023},{"p":"c","s":"s3","t":31,"v":-0.0017},{"p":"c","s":"s3","t":32,"v":-0.0009},{"p":"c","s":"s3","t":33,"v":-0.0004},{"p":"c","s":"s3","t":34,"v":-0.0003},{"p":"c","s":"s3","t":35,"v":-0.0011},{"p":"c","s":"s3","t":36,"v":-0.0020},{"p":"c","s":"s3","t":37,"v":-0.0021},{"p":"c","s":"s3","t":38,"v":-0.0017},{"p":"c","s":"s3","t":39,"v":-0.0011},{"p":"c","s":"s3","t":40,"v":-0.0004},
{"p":"c","s":"s4","t":0,"v":-0.0014},{"p":"c","s":"s4","t":1,"v":-0.0013},{"p":"c","s":"s4","t":2,"v":0.0011},{"p":"c","s":"s4","t":3,"v":0.0005},{"p":"c","s":"s4","t":4,"v":-0.0006},{"p":"c","s":"s4","t":5,"v":-0.0004},{"p":"c","s":"s4","t":6,"v":0.0003},{"p":"c","s":"s4","t":7,"v":0.0011},{"p":"c","s":"s4","t":8,"v":0.0020},{"p":"c","s":"s4","t":9,"v":0.0022},{"p":"c","s":"s4","t":10,"v":0.0020},{"p":"c","s":"s4","t":11,"v":0.0013},{"p":"c","s":"s4","t":12,"v":0.0019},{"p":"c","s":"s4","t":13,"v":0.0031},{"p":"c","s":"s4","t":14,"v":0.0037},{"p":"c","s":"s4","t":15,"v":0.0030},{"p":"c","s":"s4","t":16,"v":0.0022},{"p":"c","s":"s4","t":17,"v":0.0013},{"p":"c","s":"s4","t":18,"v":0.0017},{"p":"c","s":"s4","t":19,"v":0.0026},{"p":"c","s":"s4","t":20,"v":0.0035},{"p":"c","s":"s4","t":21,"v":0.0037},{"p":"c","s":"s4","t":22,"v":0.0031},{"p":"c","s":"s4","t":23,"v":0.0019},{"p":"c","s":"s4","t":24,"v":0.0019},{"p":"c","s":"s4","t":25,"v":0.0025},{"p":"c","s":"s4","t":26,"v":0.0033},{"p":"c","s":"s4","t":27,"v":0.0035},{"p":"c","s":"s4","t":28,"v":0.0034},{"p":"c","s":"s4","t":29,"v":0.0028},{"p":"c","s":"s4","t":30,"v":0.0025},{"p":"c","s":"s4","t":31,"v":0.0029},{"p":"c","s":"s4","t":32,"v":0.0034},{"p":"c","s":"s4","t":33,"v":0.0033},{"p":"c","s":"s4","t":34,"v":0.0031},{"p":"c","s":"s4","t":35,"v":0.0025},{"p":"c","s":"s4","t":36,"v":0.0028},{"p":"c","s":"s4","t":37,"v":0.0030},{"p":"c","s":"s4","t":38,"v":0.0034},{"p":"c","s":"s4","t":39,"v":0.0035},{"p":"c","s":"s4","t":40,"v":0.0032},
{"p":"c","s":"s5","t":0,"v":-0.0006},{"p":"c","s":"s5","t":1,"v":-0.0002},{"p":"c","s":"s5","t":2,"v":-0.0021},{"p":"c","s":"s5","t":3,"v":-0.0034},{"p":"c","s":"s5","t":4,"v":-0.0044},{"p":"c","s":"s5","t":5,"v":-0.0049},{"p":"c","s":"s5","t":6,"v":-0.0036},{"p":"c","s":"s5","t":7,"v":-0.0006},{"p":"c","s":"s5","t":8,"v":0.0024},{"p":"c","s":"s5","t":9,"v":0.0031},{"p":"c","s":"s5","t":10,"v":0.0012},{"p":"c","s":"s5","t":11,"v":-0.0011},{"p":"c","s":"s5","t":12,"v":-0.0044},{"p":"c","s":"s5","t":13,"v":-0.0047},{"p":"c","s":"s5","t":14,"v":-0.0032},{"p":"c","s":"s5","t":15,"v":-0.0006},{"p":"c","s":"s5","t":16,"v":0.0007},{"p":"c","s":"s5","t":17,"v":0.0005},{"p":"c","s":"s5","t":18,"v":-0.0018},{"p":"c","s":"s5","t":19,"v":-0.0031},{"p":"c","s":"s5","t":20,"v":-0.0035},{"p":"c","s":"s5","t":21,"v":-0.0031},{"p":"c","s":"s5","t":22,"v":-0.0020},{"p":"c","s":"s5","t":23,"v":-0.0008},{"p":"c","s":"s5","t":24,"v":-0.0007},{"p":"c","s":"s5","t":25,"v":-0.0007},{"p":"c","s":"s5","t":26,"v":-0.0012},{"p":"c","s":"s5","t":27,"v":-0.0014},{"p":"c","s":"s5","t":28,"v":-0.0021},{"p":"c","s":"s5","t":29,"v":-0.0028},{"p":"c","s":"s5","t":30,"v":-0.0028},{"p":"c","s":"s5","t":31,"v":-0.0020},{"p":"c","s":"s5","t":32,"v":-0.0012},{"p":"c","s":"s5","t":33,"v":-0.0007},{"p":"c","s":"s5","t":34,"v":-0.0009},{"p":"c","s":"s5","t":35,"v":-0.0018},{"p":"c","s":"s5","t":36,"v":-0.0028},{"p":"c","s":"s5","t":37,"v":-0.0031},{"p":"c","s":"s5","t":38,"v":-0.0026},{"p":"c","s":"s5","t":39,"v":-0.0016},{"p":"c","s":"s5","t":40,"v":-0.0009},
{"p":"c","s":"s6","t":0,"v":-0.0012},{"p":"c","s":"s6","t":1,"v":0.0010},{"p":"c","s":"s6","t":2,"v":0.0000},{"p":"c","s":"s6","t":3,"v":0.0017},{"p":"c","s":"s6","t":4,"v":0.0001},{"p":"c","s":"s6","t":5,"v":-0.0008},{"p":"c","s":"s6","t":6,"v":-0.0065},{"p":"c","s":"s6","t":7,"v":-0.0035},{"p":"c","s":"s6","t":8,"v":0.0015},{"p":"c","s":"s6","t":9,"v":0.0078},{"p":"c","s":"s6","t":10,"v":0.0044},{"p":"c","s":"s6","t":11,"v":0.0023},{"p":"c","s":"s6","t":12,"v":-0.0034},{"p":"c","s":"s6","t":13,"v":-0.0045},{"p":"c","s":"s6","t":14,"v":-0.0039},{"p":"c","s":"s6","t":15,"v":0.0035},{"p":"c","s":"s6","t":16,"v":0.0071},{"p":"c","s":"s6","t":17,"v":0.0061},{"p":"c","s":"s6","t":18,"v":0.0003},{"p":"c","s":"s6","t":19,"v":-0.0008},{"p":"c","s":"s6","t":20,"v":-0.0013},{"p":"c","s":"s6","t":21,"v":0.0000},{"p":"c","s":"s6","t":22,"v":0.0011},{"p":"c","s":"s6","t":23,"v":0.0035},{"p":"c","s":"s6","t":24,"v":0.0019},{"p":"c","s":"s6","t":25,"v":0.0007},{"p":"c","s":"s6","t":26,"v":0.0003},{"p":"c","s":"s6","t":27,"v":0.0025},{"p":"c","s":"s6","t":28,"v":0.0022},{"p":"c","s":"s6","t":29,"v":0.0011},{"p":"c","s":"s6","t":30,"v":-0.0004},{"p":"c","s":"s6","t":31,"v":0.0002},{"p":"c","s":"s6","t":32,"v":0.0005},{"p":"c","s":"s6","t":33,"v":0.0025},{"p":"c","s":"s6","t":34,"v":0.0038},{"p":"c","s":"s6","t":35,"v":0.0035},{"p":"c","s":"s6","t":36,"v":0.0007},{"p":"c","s":"s6","t":37,"v":-0.0009},{"p":"c","s":"s6","t":38,"v":-0.0007},{"p":"c","s":"s6","t":39,"v":0.0012},{"p":"c","s":"s6","t":40,"v":0.0026},
{"p":"c","s":"s7","t":0,"v":-0.0004},{"p":"c","s":"s7","t":1,"v":0.0004},{"p":"c","s":"s7","t":2,"v":-0.0009},{"p":"c","s":"s7","t":3,"v":-0.0009},{"p":"c","s":"s7","t":4,"v":-0.0020},{"p":"c","s":"s7","t":5,"v":-0.0027},{"p":"c","s":"s7","t":6,"v":-0.0034},{"p":"c","s":"s7","t":7,"v":-0.0018},{"p":"c","s":"s7","t":8,"v":0.0007},{"p":"c","s":"s7","t":9,"v":0.0025},{"p":"c","s":"s7","t":10,"v":0.0011},{"p":"c","s":"s7","t":11,"v":-0.0003},{"p":"c","s":"s7","t":12,"v":-0.0021},{"p":"c","s":"s7","t":13,"v":-0.0027},{"p":"c","s":"s7","t":14,"v":-0.0020},{"p":"c","s":"s7","t":15,"v":-0.0001},{"p":"c","s":"s7","t":16,"v":0.0013},{"p":"c","s":"s7","t":17,"v":0.0010},{"p":"c","s":"s7","t":18,"v":-0.0006},{"p":"c","s":"s7","t":19,"v":-0.0012},{"p":"c","s":"s7","t":20,"v":-0.0016},{"p":"c","s":"s7","t":21,"v":-0.0011},{"p":"c","s":"s7","t":22,"v":-0.0007},{"p":"c","s":"s7","t":23,"v":-0.0002},{"p":"c","s":"s7","t":24,"v":-0.0002},{"p":"c","s":"s7","t":25,"v":-0.0003},{"p":"c","s":"s7","t":26,"v":-0.0004},{"p":"c","s":"s7","t":27,"v":-0.0002},{"p":"c","s":"s7","t":28,"v":-0.0004},{"p":"c","s":"s7","t":29,"v":-0.0009},{"p":"c","s":"s7","t":30,"v":-0.0013},{"p":"c","s":"s7","t":31,"v":-0.0009},{"p":"c","s":"s7","t":32,"v":-0.0006},{"p":"c","s":"s7","t":33,"v":0.0001},{"p":"c","s":"s7","t":34,"v":0.0003},{"p":"c","s":"s7","t":35,"v":0.0001},{"p":"c","s":"s7","t":36,"v":-0.0007},{"p":"c","s":"s7","t":37,"v":-0.0013},{"p":"c","s":"s7","t":38,"v":-0.0012},{"p":"c","s":"s7","t":39,"v":-0.0006},{"p":"c","s":"s7","t":40,"v":-0.0001},
{"p":"d","s":"s1","t":0,"v":0.0018},{"p":"d","s":"s1","t":1,"v":0.0015},{"p":"d","s":"s1","t":2,"v":0.0019},{"p":"d","s":"s1","t":3,"v":0.0028},{"p":"d","s":"s1","t":4,"v":0.0017},{"p":"d","s":"s1","t":5,"v":0.0004},{"p":"d","s":"s1","t":6,"v":-0.0007},{"p":"d","s":"s1","t":7,"v":-0.0015},{"p":"d","s":"s1","t":8,"v":-0.0004},{"p":"d","s":"s1","t":9,"v":0.0001},{"p":"d","s":"s1","t":10,"v":0.0016},{"p":"d","s":"s1","t":11,"v":0.0018},{"p":"d","s":"s1","t":12,"v":0.0012},{"p":"d","s":"s1","t":13,"v":0.0006},{"p":"d","s":"s1","t":14,"v":0.0003},{"p":"d","s":"s1","t":15,"v":0.0005},{"p":"d","s":"s1","t":16,"v":0.0007},{"p":"d","s":"s1","t":17,"v":0.0009},{"p":"d","s":"s1","t":18,"v":0.0015},{"p":"d","s":"s1","t":19,"v":0.0014},{"p":"d","s":"s1","t":20,"v":0.0013},{"p":"d","s":"s1","t":21,"v":0.0010},{"p":"d","s":"s1","t":22,"v":0.0007},{"p":"d","s":"s1","t":23,"v":0.0003},{"p":"d","s":"s1","t":24,"v":0.0003},{"p":"d","s":"s1","t":25,"v":0.0005},{"p":"d","s":"s1","t":26,"v":0.0012},{"p":"d","s":"s1","t":27,"v":0.0014},{"p":"d","s":"s1","t":28,"v":0.0013},{"p":"d","s":"s1","t":29,"v":0.0009},{"p":"d","s":"s1","t":30,"v":0.0006},{"p":"d","s":"s1","t":31,"v":0.0005},{"p":"d","s":"s1","t":32,"v":0.0005},{"p":"d","s":"s1","t":33,"v":0.0009},{"p":"d","s":"s1","t":34,"v":0.0011},{"p":"d","s":"s1","t":35,"v":0.0011},{"p":"d","s":"s1","t":36,"v":0.0010},{"p":"d","s":"s1","t":37,"v":0.0008},{"p":"d","s":"s1","t":38,"v":0.0006},{"p":"d","s":"s1","t":39,"v":0.0005},{"p":"d","s":"s1","t":40,"v":0.0007},
{"p":"d","s":"s2","t":0,"v":0.0015},{"p":"d","s":"s2","t":1,"v":0.0011},{"p":"d","s":"s2","t":2,"v":0.0023},{"p":"d","s":"s2","t":3,"v":0.0013},{"p":"d","s":"s2","t":4,"v":0.0012},{"p":"d","s":"s2","t":5,"v":0.0008},{"p":"d","s":"s2","t":6,"v":-0.0005},{"p":"d","s":"s2","t":7,"v":0.0001},{"p":"d","s":"s2","t":8,"v":-0.0008},{"p":"d","s":"s2","t":9,"v":-0.0007},{"p":"d","s":"s2","t":10,"v":-0.0007},{"p":"d","s":"s2","t":11,"v":-0.0006},{"p":"d","s":"s2","t":12,"v":0.0001},{"p":"d","s":"s2","t":13,"v":-0.0003},{"p":"d","s":"s2","t":14,"v":0.0000},{"p":"d","s":"s2","t":15,"v":0.0003},{"p":"d","s":"s2","t":16,"v":0.0003},{"p":"d","s":"s2","t":17,"v":0.0003},{"p":"d","s":"s2","t":18,"v":0.0003},{"p":"d","s":"s2","t":19,"v":0.0003},{"p":"d","s":"s2","t":20,"v":0.0003},{"p":"d","s":"s2","t":21,"v":-0.0001},{"p":"d","s":"s2","t":22,"v":-0.0002},{"p":"d","s":"s2","t":23,"v":-0.0001},{"p":"d","s":"s2","t":24,"v":-0.0001},{"p":"d","s":"s2","t":25,"v":-0.0001},{"p":"d","s":"s2","t":26,"v":0.0000},{"p":"d","s":"s2","t":27,"v":0.0000},{"p":"d","s":"s2","t":28,"v":-0.0001},{"p":"d","s":"s2","t":29,"v":-0.0002},{"p":"d","s":"s2","t":30,"v":-0.0001},{"p":"d","s":"s2","t":31,"v":0.0000},{"p":"d","s":"s2","t":32,"v":0.0000},{"p":"d","s":"s2","t":33,"v":-0.0001},{"p":"d","s":"s2","t":34,"v":-0.0001},{"p":"d","s":"s2","t":35,"v":-0.0001},{"p":"d","s":"s2","t":36,"v":-0.0001},{"p":"d","s":"s2","t":37,"v":-0.0001},{"p":"d","s":"s2","t":38,"v":0.0000},{"p":"d","s":"s2","t":39,"v":-0.0001},{"p":"d","s":"s2","t":40,"v":-0.0002},
{"p":"d","s":"s3","t":0,"v":-0.0002},{"p":"d","s":"s3","t":1,"v":0.0009},{"p":"d","s":"s3","t":2,"v":0.0008},{"p":"d","s":"s3","t":3,"v":0.0014},{"p":"d","s":"s3","t":4,"v":0.0007},{"p":"d","s":"s3","t":5,"v":-0.0006},{"p":"d","s":"s3","t":6,"v":-0.0016},{"p":"d","s":"s3","t":7,"v":-0.0027},{"p":"d","s":"s3","t":8,"v":-0.0023},{"p":"d","s":"s3","t":9,"v":-0.0020},{"p":"d","s":"s3","t":10,"v":-0.0016},{"p":"d","s":"s3","t":11,"v":-0.0015},{"p":"d","s":"s3","t":12,"v":-0.0016},{"p":"d","s":"s3","t":13,"v":-0.0017},{"p":"d","s":"s3","t":14,"v":-0.0017},{"p":"d","s":"s3","t":15,"v":-0.0017},{"p":"d","s":"s3","t":16,"v":-0.0016},{"p":"d","s":"s3","t":17,"v":-0.0014},{"p":"d","s":"s3","t":18,"v":-0.0013},{"p":"d","s":"s3","t":19,"v":-0.0012},{"p":"d","s":"s3","t":20,"v":-0.0013},{"p":"d","s":"s3","t":21,"v":-0.0014},{"p":"d","s":"s3","t":22,"v":-0.0016},{"p":"d","s":"s3","t":23,"v":-0.0020},{"p":"d","s":"s3","t":24,"v":-0.0021},{"p":"d","s":"s3","t":25,"v":-0.0020},{"p":"d","s":"s3","t":26,"v":-0.0016},{"p":"d","s":"s3","t":27,"v":-0.0015},{"p":"d","s":"s3","t":28,"v":-0.0015},{"p":"d","s":"s3","t":29,"v":-0.0016},{"p":"d","s":"s3","t":30,"v":-0.0018},{"p":"d","s":"s3","t":31,"v":-0.0020},{"p":"d","s":"s3","t":32,"v":-0.0019},{"p":"d","s":"s3","t":33,"v":-0.0018},{"p":"d","s":"s3","t":34,"v":-0.0017},{"p":"d","s":"s3","t":35,"v":-0.0016},{"p":"d","s":"s3","t":36,"v":-0.0016},{"p":"d","s":"s3","t":37,"v":-0.0017},{"p":"d","s":"s3","t":38,"v":-0.0018},{"p":"d","s":"s3","t":39,"v":-0.0018},{"p":"d","s":"s3","t":40,"v":-0.0017},
{"p":"d","s":"s4","t":0,"v":0.0007},{"p":"d","s":"s4","t":1,"v":0.0002},{"p":"d","s":"s4","t":2,"v":0.0001},{"p":"d","s":"s4","t":3,"v":-0.0005},{"p":"d","s":"s4","t":4,"v":-0.0018},{"p":"d","s":"s4","t":5,"v":-0.0025},{"p":"d","s":"s4","t":6,"v":-0.0031},{"p":"d","s":"s4","t":7,"v":-0.0035},{"p":"d","s":"s4","t":8,"v":-0.0036},{"p":"d","s":"s4","t":9,"v":-0.0044},{"p":"d","s":"s4","t":10,"v":-0.0047},{"p":"d","s":"s4","t":11,"v":-0.0052},{"p":"d","s":"s4","t":12,"v":-0.0050},{"p":"d","s":"s4","t":13,"v":-0.0049},{"p":"d","s":"s4","t":14,"v":-0.0049},{"p":"d","s":"s4","t":15,"v":-0.0047},{"p":"d","s":"s4","t":16,"v":-0.0049},{"p":"d","s":"s4","t":17,"v":-0.0052},{"p":"d","s":"s4","t":18,"v":-0.0052},{"p":"d","s":"s4","t":19,"v":-0.0052},{"p":"d","s":"s4","t":20,"v":-0.0052},{"p":"d","s":"s4","t":21,"v":-0.0052},{"p":"d","s":"s4","t":22,"v":-0.0053},{"p":"d","s":"s4","t":23,"v":-0.0054},{"p":"d","s":"s4","t":24,"v":-0.0053},{"p":"d","s":"s4","t":25,"v":-0.0054},{"p":"d","s":"s4","t":26,"v":-0.0052},{"p":"d","s":"s4","t":27,"v":-0.0054},{"p":"d","s":"s4","t":28,"v":-0.0056},{"p":"d","s":"s4","t":29,"v":-0.0056},{"p":"d","s":"s4","t":30,"v":-0.0055},{"p":"d","s":"s4","t":31,"v":-0.0054},{"p":"d","s":"s4","t":32,"v":-0.0054},{"p":"d","s":"s4","t":33,"v":-0.0054},{"p":"d","s":"s4","t":34,"v":-0.0055},{"p":"d","s":"s4","t":35,"v":-0.0056},{"p":"d","s":"s4","t":36,"v":-0.0056},{"p":"d","s":"s4","t":37,"v":-0.0055},{"p":"d","s":"s4","t":38,"v":-0.0054},{"p":"d","s":"s4","t":39,"v":-0.0054},{"p":"d","s":"s4","t":40,"v":-0.0054},
{"p":"d","s":"s5","t":0,"v":-0.0007},{"p":"d","s":"s5","t":1,"v":0.0007},{"p":"d","s":"s5","t":2,"v":0.0005},{"p":"d","s":"s5","t":3,"v":0.0011},{"p":"d","s":"s5","t":4,"v":0.0001},{"p":"d","s":"s5","t":5,"v":-0.0012},{"p":"d","s":"s5","t":6,"v":-0.0019},{"p":"d","s":"s5","t":7,"v":-0.0026},{"p":"d","s":"s5","t":8,"v":-0.0020},{"p":"d","s":"s5","t":9,"v":-0.0015},{"p":"d","s":"s5","t":10,"v":-0.0009},{"p":"d","s":"s5","t":11,"v":-0.0004},{"p":"d","s":"s5","t":12,"v":-0.0007},{"p":"d","s":"s5","t":13,"v":-0.0008},{"p":"d","s":"s5","t":14,"v":-0.0009},{"p":"d","s":"s5","t":15,"v":-0.0009},{"p":"d","s":"s5","t":16,"v":-0.0008},{"p":"d","s":"s5","t":17,"v":-0.0007},{"p":"d","s":"s5","t":18,"v":-0.0005},{"p":"d","s":"s5","t":19,"v":-0.0004},{"p":"d","s":"s5","t":20,"v":-0.0005},{"p":"d","s":"s5","t":21,"v":-0.0006},{"p":"d","s":"s5","t":22,"v":-0.0009},{"p":"d","s":"s5","t":23,"v":-0.0013},{"p":"d","s":"s5","t":24,"v":-0.0013},{"p":"d","s":"s5","t":25,"v":-0.0011},{"p":"d","s":"s5","t":26,"v":-0.0008},{"p":"d","s":"s5","t":27,"v":-0.0007},{"p":"d","s":"s5","t":28,"v":-0.0007},{"p":"d","s":"s5","t":29,"v":-0.0009},{"p":"d","s":"s5","t":30,"v":-0.0010},{"p":"d","s":"s5","t":31,"v":-0.0011},{"p":"d","s":"s5","t":32,"v":-0.0010},{"p":"d","s":"s5","t":33,"v":-0.0008},{"p":"d","s":"s5","t":34,"v":-0.0007},{"p":"d","s":"s5","t":35,"v":-0.0007},{"p":"d","s":"s5","t":36,"v":-0.0008},{"p":"d","s":"s5","t":37,"v":-0.0008},{"p":"d","s":"s5","t":38,"v":-0.0009},{"p":"d","s":"s5","t":39,"v":-0.0010},{"p":"d","s":"s5","t":40,"v":-0.0010},
{"p":"d","s":"s6","t":0,"v":0.0005},{"p":"d","s":"s6","t":1,"v":-0.0009},{"p":"d","s":"s6","t":2,"v":-0.0024},{"p":"d","s":"s6","t":3,"v":0.0010},{"p":"d","s":"s6","t":4,"v":-0.0004},{"p":"d","s":"s6","t":5,"v":-0.0023},{"p":"d","s":"s6","t":6,"v":-0.0043},{"p":"d","s":"s6","t":7,"v":-0.0045},{"p":"d","s":"s6","t":8,"v":-0.0045},{"p":"d","s":"s6","t":9,"v":-0.0041},{"p":"d","s":"s6","t":10,"v":-0.0032},{"p":"d","s":"s6","t":11,"v":-0.0026},{"p":"d","s":"s6","t":12,"v":-0.0047},{"p":"d","s":"s6","t":13,"v":-0.0047},{"p":"d","s":"s6","t":14,"v":-0.0049},{"p":"d","s":"s6","t":15,"v":-0.0047},{"p":"d","s":"s6","t":16,"v":-0.0052},{"p":"d","s":"s6","t":17,"v":-0.0053},{"p":"d","s":"s6","t":18,"v":-0.0046},{"p":"d","s":"s6","t":19,"v":-0.0041},{"p":"d","s":"s6","t":20,"v":-0.0045},{"p":"d","s":"s6","t":21,"v":-0.0038},{"p":"d","s":"s6","t":22,"v":-0.0042},{"p":"d","s":"s6","t":23,"v":-0.0049},{"p":"d","s":"s6","t":24,"v":-0.0056},{"p":"d","s":"s6","t":25,"v":-0.0053},{"p":"d","s":"s6","t":26,"v":-0.0047},{"p":"d","s":"s6","t":27,"v":-0.0042},{"p":"d","s":"s6","t":28,"v":-0.0041},{"p":"d","s":"s6","t":29,"v":-0.0039},{"p":"d","s":"s6","t":30,"v":-0.0046},{"p":"d","s":"s6","t":31,"v":-0.0054},{"p":"d","s":"s6","t":32,"v":-0.0055},{"p":"d","s":"s6","t":33,"v":-0.0047},{"p":"d","s":"s6","t":34,"v":-0.0044},{"p":"d","s":"s6","t":35,"v":-0.0043},{"p":"d","s":"s6","t":36,"v":-0.0044},{"p":"d","s":"s6","t":37,"v":-0.0045},{"p":"d","s":"s6","t":38,"v":-0.0049},{"p":"d","s":"s6","t":39,"v":-0.0049},{"p":"d","s":"s6","t":40,"v":-0.0048},
{"p":"d","s":"s7","t":0,"v":-0.0015},{"p":"d","s":"s7","t":1,"v":0.0000},{"p":"d","s":"s7","t":2,"v":-0.0005},{"p":"d","s":"s7","t":3,"v":0.0006},{"p":"d","s":"s7","t":4,"v":0.0000},{"p":"d","s":"s7","t":5,"v":-0.0009},{"p":"d","s":"s7","t":6,"v":-0.0016},{"p":"d","s":"s7","t":7,"v":-0.0018},{"p":"d","s":"s7","t":8,"v":-0.0015},{"p":"d","s":"s7","t":9,"v":-0.0013},{"p":"d","s":"s7","t":10,"v":-0.0010},{"p":"d","s":"s7","t":11,"v":-0.0007},{"p":"d","s":"s7","t":12,"v":-0.0011},{"p":"d","s":"s7","t":13,"v":-0.0012},{"p":"d","s":"s7","t":14,"v":-0.0012},{"p":"d","s":"s7","t":15,"v":-0.0012},{"p":"d","s":"s7","t":16,"v":-0.0012},{"p":"d","s":"s7","t":17,"v":-0.0012},{"p":"d","s":"s7","t":18,"v":-0.0010},{"p":"d","s":"s7","t":19,"v":-0.0008},{"p":"d","s":"s7","t":20,"v":-0.0008},{"p":"d","s":"s7","t":21,"v":-0.0008},{"p":"d","s":"s7","t":22,"v":-0.0010},{"p":"d","s":"s7","t":23,"v":-0.0013},{"p":"d","s":"s7","t":24,"v":-0.0015},{"p":"d","s":"s7","t":25,"v":-0.0014},{"p":"d","s":"s7","t":26,"v":-0.0012},{"p":"d","s":"s7","t":27,"v":-0.0010},{"p":"d","s":"s7","t":28,"v":-0.0010},{"p":"d","s":"s7","t":29,"v":-0.0011},{"p":"d","s":"s7","t":30,"v":-0.0013},{"p":"d","s":"s7","t":31,"v":-0.0014},{"p":"d","s":"s7","t":32,"v":-0.0013},{"p":"d","s":"s7","t":33,"v":-0.0012},{"p":"d","s":"s7","t":34,"v":-0.0011},{"p":"d","s":"s7","t":35,"v":-0.0011},{"p":"d","s":"s7","t":36,"v":-0.0011},{"p":"d","s":"s7","t":37,"v":-0.0012},{"p":"d","s":"s7","t":38,"v":-0.0012},{"p":"d","s":"s7","t":39,"v":-0.0012},{"p":"d","s":"s7","t":40,"v":-0.0012}
]},
"vconcat": [
{"spacing": 367, "hconcat": [
{"width": 1420, "height": 1074, "layer": [
 {"data": {"name": "d"}, "transform": [{"filter": "datum.p == 'a'"}], "mark": {"type": "line", "strokeWidth": 18, "strokeCap": "round", "strokeJoin": "round"},
  "encoding": {
   "x": {"field": "t", "type": "quantitative", "scale": {"domain": [-0.5, 41.5], "nice": false, "zero": false}, "axis": {"title": null, "values": [0,2,4,6,8,10,12,14,16,18,20,22,24,26,28,30,32,34,36,38,40], "offset": -716, "labelPadding": 45, "labelOverlap": false, "labelFlush": false, "labelBound": false, "labelAngle": 0, "grid": false, "zindex": 1}},
   "y": {"field": "v", "type": "quantitative", "scale": {"domain": [-0.02, 0.01], "nice": false, "zero": false}, "axis": {"title": null, "values": [-0.02,-0.015,-0.01,-0.005,0,0.005,0.01], "labelExpr": "replace(format(datum.value, '.3f'), '\u2212', '-')", "labelPadding": 75, "grid": true, "gridColor": "#D9D9D9", "gridWidth": 6.5, "labelOverlap": false}},
   "color": {"field": "s", "type": "nominal", "scale": {"domain": ["s1","s2","s3","s4","s5","s6","s7"], "range": ["#4472C4","#ED7D31","#A5A5A5","#FFC000","#5B9BD5","#70AD47","#264478"]}, "legend": null}}},
 {"data": {"values": [{}]}, "mark": {"type": "rect", "filled": false, "color": "#D9D9D9", "strokeWidth": 6}, "encoding": {"x": {"datum": -8.87, "type": "quantitative"}, "x2": {"datum": 44.61}, "y": {"datum": 0.01098, "type": "quantitative"}, "y2": {"datum": -0.02123}}},
 {"data": {"values": [{}]}, "mark": {"type": "text", "text": "(", "font": "Liberation Serif", "fontSize": 78, "align": "right", "baseline": "middle", "dx": -20, "color": "#000000"}, "encoding": {"x": {"datum": 17.9, "type": "quantitative"}, "y": {"datum": -0.02439, "type": "quantitative"}}},
 {"data": {"values": [{}]}, "mark": {"type": "text", "text": "a", "font": "Liberation Serif", "fontSize": 78, "fontWeight": "bold", "align": "center", "baseline": "middle", "color": "#000000"}, "encoding": {"x": {"datum": 17.9, "type": "quantitative"}, "y": {"datum": -0.02439, "type": "quantitative"}}},
 {"data": {"values": [{}]}, "mark": {"type": "text", "text": ")", "font": "Liberation Serif", "fontSize": 78, "align": "left", "baseline": "middle", "dx": 20, "color": "#000000"}, "encoding": {"x": {"datum": 17.9, "type": "quantitative"}, "y": {"datum": -0.02439, "type": "quantitative"}}}
]},
{"width": 1457, "height": 1080, "layer": [
 {"data": {"name": "d"}, "transform": [{"filter": "datum.p == 'b'"}], "mark": {"type": "line", "strokeWidth": 18, "strokeCap": "round", "strokeJoin": "round"},
  "encoding": {
   "x": {"field": "t", "type": "quantitative", "scale": {"domain": [-0.5, 41.5], "nice": false, "zero": false}, "axis": {"title": null, "values": [0,2,4,6,8,10,12,14,16,18,20,22,24,26,28,30,32,34,36,38,40], "offset": -675, "labelPadding": 47, "labelOverlap": false, "labelFlush": false, "labelBound": false, "labelAngle": 0, "grid": false, "zindex": 1}},
   "y": {"field": "v", "type": "quantitative", "scale": {"domain": [-0.025, 0.015], "nice": false, "zero": false}, "axis": {"title": null, "values": [-0.025,-0.02,-0.015,-0.01,-0.005,0,0.005,0.01,0.015], "labelExpr": "replace(format(datum.value, '.3f'), '\u2212', '-')", "labelPadding": 78, "grid": true, "gridColor": "#D9D9D9", "gridWidth": 6.5, "labelOverlap": false}},
   "color": {"field": "s", "type": "nominal", "scale": {"domain": ["s1","s2","s3","s4","s5","s6","s7"], "range": ["#4472C4","#ED7D31","#A5A5A5","#FFC000","#5B9BD5","#70AD47","#264478"]}, "legend": null}}},
 {"data": {"values": [{}]}, "mark": {"type": "rect", "filled": false, "color": "#D9D9D9", "strokeWidth": 6}, "encoding": {"x": {"datum": -7.94, "type": "quantitative"}, "x2": {"datum": 44.3}, "y": {"datum": 0.0164, "type": "quantitative"}, "y2": {"datum": -0.02633}}},
 {"data": {"values": [{}]}, "mark": {"type": "text", "text": "(", "font": "Liberation Serif", "fontSize": 78, "align": "right", "baseline": "middle", "dx": -20, "color": "#000000"}, "encoding": {"x": {"datum": 18.09, "type": "quantitative"}, "y": {"datum": -0.03052, "type": "quantitative"}}},
 {"data": {"values": [{}]}, "mark": {"type": "text", "text": "b", "font": "Liberation Serif", "fontSize": 78, "fontWeight": "bold", "align": "center", "baseline": "middle", "color": "#000000"}, "encoding": {"x": {"datum": 18.09, "type": "quantitative"}, "y": {"datum": -0.03052, "type": "quantitative"}}},
 {"data": {"values": [{}]}, "mark": {"type": "text", "text": ")", "font": "Liberation Serif", "fontSize": 78, "align": "left", "baseline": "middle", "dx": 20, "color": "#000000"}, "encoding": {"x": {"datum": 18.09, "type": "quantitative"}, "y": {"datum": -0.03052, "type": "quantitative"}}}
]}
]},
{"spacing": 367, "hconcat": [
{"width": 1420, "height": 1059, "layer": [
 {"data": {"name": "d"}, "transform": [{"filter": "datum.p == 'c'"}], "mark": {"type": "line", "strokeWidth": 18, "strokeCap": "round", "strokeJoin": "round"},
  "encoding": {
   "x": {"field": "t", "type": "quantitative", "scale": {"domain": [-0.5, 41.5], "nice": false, "zero": false}, "axis": {"title": null, "values": [0,2,4,6,8,10,12,14,16,18,20,22,24,26,28,30,32,34,36,38,40], "offset": -706, "labelPadding": 46, "labelOverlap": false, "labelFlush": false, "labelBound": false, "labelAngle": 0, "grid": false, "zindex": 1}},
   "y": {"field": "v", "type": "quantitative", "scale": {"domain": [-0.02, 0.01], "nice": false, "zero": false}, "axis": {"title": null, "values": [-0.02,-0.015,-0.01,-0.005,0,0.005,0.01], "labelExpr": "replace(format(datum.value, '.3f'), '\u2212', '-')", "labelPadding": 75, "grid": true, "gridColor": "#D9D9D9", "gridWidth": 6.5, "labelOverlap": false}},
   "color": {"field": "s", "type": "nominal", "scale": {"domain": ["s1","s2","s3","s4","s5","s6","s7"], "range": ["#4472C4","#ED7D31","#A5A5A5","#FFC000","#5B9BD5","#70AD47","#264478"]}, "legend": null}}},
 {"data": {"values": [{}]}, "mark": {"type": "rect", "filled": false, "color": "#D9D9D9", "strokeWidth": 6}, "encoding": {"x": {"datum": -8.87, "type": "quantitative"}, "x2": {"datum": 44.61}, "y": {"datum": 0.01147, "type": "quantitative"}, "y2": {"datum": -0.02136}}},
 {"data": {"values": [{}]}, "mark": {"type": "text", "text": "(", "font": "Liberation Serif", "fontSize": 78, "align": "right", "baseline": "middle", "dx": -20, "color": "#000000"}, "encoding": {"x": {"datum": 17.9, "type": "quantitative"}, "y": {"datum": -0.02442, "type": "quantitative"}}},
 {"data": {"values": [{}]}, "mark": {"type": "text", "text": "c", "font": "Liberation Serif", "fontSize": 78, "fontWeight": "bold", "align": "center", "baseline": "middle", "color": "#000000"}, "encoding": {"x": {"datum": 17.9, "type": "quantitative"}, "y": {"datum": -0.02442, "type": "quantitative"}}},
 {"data": {"values": [{}]}, "mark": {"type": "text", "text": ")", "font": "Liberation Serif", "fontSize": 78, "align": "left", "baseline": "middle", "dx": 20, "color": "#000000"}, "encoding": {"x": {"datum": 17.9, "type": "quantitative"}, "y": {"datum": -0.02442, "type": "quantitative"}}}
]},
{"width": 1424, "height": 1059, "layer": [
 {"data": {"name": "d"}, "transform": [{"filter": "datum.p == 'd'"}], "mark": {"type": "line", "strokeWidth": 18, "strokeCap": "round", "strokeJoin": "round"},
  "encoding": {
   "x": {"field": "t", "type": "quantitative", "scale": {"domain": [-0.5, 41.5], "nice": false, "zero": false}, "axis": {"title": null, "values": [0,2,4,6,8,10,12,14,16,18,20,22,24,26,28,30,32,34,36,38,40], "offset": -706, "labelPadding": 45, "labelOverlap": false, "labelFlush": false, "labelBound": false, "labelAngle": 0, "grid": false, "zindex": 1}},
   "y": {"field": "v", "type": "quantitative", "scale": {"domain": [-0.02, 0.01], "nice": false, "zero": false}, "axis": {"title": null, "values": [-0.02,-0.015,-0.01,-0.005,0,0.005,0.01], "labelExpr": "replace(format(datum.value, '.3f'), '\u2212', '-')", "labelPadding": 75, "grid": true, "gridColor": "#D9D9D9", "gridWidth": 6.5, "labelOverlap": false}},
   "color": {"field": "s", "type": "nominal", "scale": {"domain": ["s1","s2","s3","s4","s5","s6","s7"], "range": ["#4472C4","#ED7D31","#A5A5A5","#FFC000","#5B9BD5","#70AD47","#264478"]}, "legend": null}}},
 {"data": {"values": [{}]}, "mark": {"type": "rect", "filled": false, "color": "#D9D9D9", "strokeWidth": 6}, "encoding": {"x": {"datum": -8.88, "type": "quantitative"}, "x2": {"datum": 44.57}, "y": {"datum": 0.01147, "type": "quantitative"}, "y2": {"datum": -0.02136}}},
 {"data": {"values": [{}]}, "mark": {"type": "text", "text": "(", "font": "Liberation Serif", "fontSize": 78, "align": "right", "baseline": "middle", "dx": -20, "color": "#000000"}, "encoding": {"x": {"datum": 17.85, "type": "quantitative"}, "y": {"datum": -0.02442, "type": "quantitative"}}},
 {"data": {"values": [{}]}, "mark": {"type": "text", "text": "d", "font": "Liberation Serif", "fontSize": 78, "fontWeight": "bold", "align": "center", "baseline": "middle", "color": "#000000"}, "encoding": {"x": {"datum": 17.85, "type": "quantitative"}, "y": {"datum": -0.02442, "type": "quantitative"}}},
 {"data": {"values": [{}]}, "mark": {"type": "text", "text": ")", "font": "Liberation Serif", "fontSize": 78, "align": "left", "baseline": "middle", "dx": 20, "color": "#000000"}, "encoding": {"x": {"datum": 17.85, "type": "quantitative"}, "y": {"datum": -0.02442, "type": "quantitative"}}}
]}
]}
]
}
